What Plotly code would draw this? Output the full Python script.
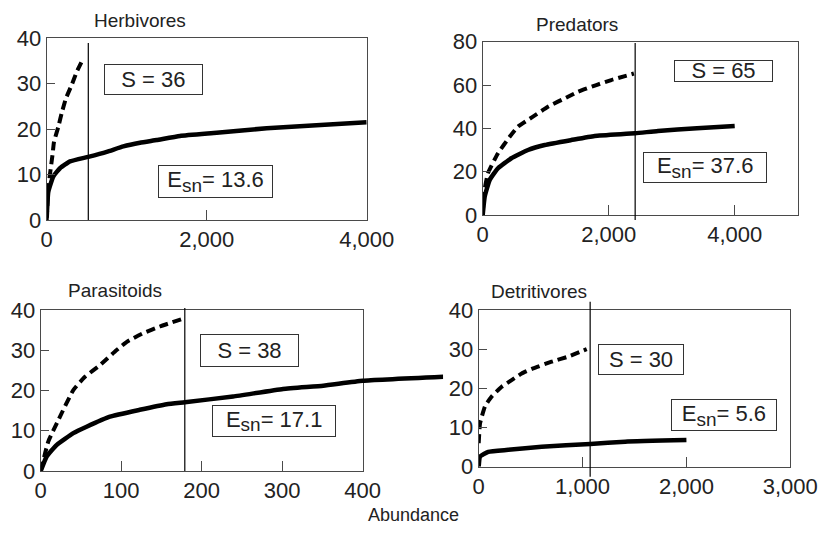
import plotly.graph_objects as go

W, H = 822, 545

# ---------------- data ----------------
herb_solid_x = [0, 20, 83, 166, 291, 520, 750, 958, 1166, 1375, 1666, 2125, 2750, 3580, 4000]
herb_solid_y = [0.5, 6.2, 9.6, 11.4, 12.9, 13.9, 15.0, 16.2, 17.0, 17.6, 18.5, 19.2, 20.2, 21.1, 21.5]
herb_dash_x = [0, 20, 75, 91, 145, 187, 241, 312, 375, 450]
herb_dash_y = [0, 7, 14.7, 17.2, 20.5, 23.5, 26.8, 29.7, 32.6, 35.3]

pred_solid_x = [0, 32, 111, 243, 455, 719, 984, 1406, 1777, 2420, 2781, 3400, 4000]
pred_solid_y = [0, 8.5, 16.2, 21.6, 26.2, 30, 32.3, 34.6, 36.5, 37.7, 38.8, 40.0, 41.1]
pred_dash_x = [0, 20, 84, 243, 428, 560, 798, 1036, 1354, 1513, 1803, 2041, 2400]
pred_dash_y = [0, 10, 19.3, 28.5, 36.1, 40.8, 45.4, 50, 54.6, 56.9, 60, 62.3, 65.3]

para_solid_x = [0, 7.4, 20, 40.5, 57, 86, 123, 156.5, 179, 239, 301, 351, 400, 500]
para_solid_y = [0, 3.6, 6.5, 9.4, 11, 13.5, 15.2, 16.6, 17.1, 18.5, 20.4, 21.2, 22.4, 23.4]
para_dash_x = [0, 9.4, 22, 40.5, 55, 73.7, 94, 107, 127, 148, 178]
para_dash_y = [0, 7.3, 12.7, 20.1, 23.4, 26.3, 30, 32.1, 34.2, 35.9, 37.9]

detr_solid_x = [0, 13, 92, 285, 606, 1075, 1410, 2000]
detr_solid_y = [0, 2.6, 3.8, 4.3, 5.1, 5.8, 6.4, 6.8]
detr_dash_x = [0, 13, 61, 125, 221, 317, 414, 525, 702, 862, 1040]
detr_dash_y = [6, 11.1, 15.4, 17.9, 20.4, 22.1, 23.8, 25.1, 26.8, 28.1, 30]

panel_titles = ["Herbivores", "Predators", "Parasitoids", "Detritivores"]
vline_x = [520, 2420, 179, 1073]
s_values = [36, 65, 38, 30]
esn_values = ["13.6", "37.6", "17.1", "5.6"]

x_ranges = [[0, 4000], [0, 5000], [0, 400], [0, 3000]]
x_ticks = [[0, 2000, 4000], [0, 2000, 4000], [0, 100, 200, 300, 400], [0, 1000, 2000, 3000]]
y_ranges = [[0, 40], [0, 80], [0, 40], [0, 40]]
y_ticks = [[0, 10, 20, 30, 40], [0, 20, 40, 60, 80], [0, 10, 20, 30, 40], [0, 10, 20, 30, 40]]

# ---------------- layout helpers ----------------
def px(x):
    return x / W

def py(y):
    return 1 - y / H

# panel frames in pixels: (left, right, top, bottom)
frames = [(46.7, 366.7, 38.3, 220), (482.7, 797.7, 41.7, 215),
          (40.7, 362.7, 310, 471), (478.7, 790.3, 310, 466.7)]

FONT = "Liberation Sans, Arial, sans-serif"
LINE = "#4a4a4a"
CLEAR = "rgba(0,0,0,0)"
TXT = "#222"

fig = go.Figure()

solids = [(herb_solid_x, herb_solid_y), (pred_solid_x, pred_solid_y),
          (para_solid_x, para_solid_y), (detr_solid_x, detr_solid_y)]
dashes = [(herb_dash_x, herb_dash_y), (pred_dash_x, pred_dash_y),
          (para_dash_x, para_dash_y), (detr_dash_x, detr_dash_y)]

for i in range(4):
    n = "" if i == 0 else str(i + 1)
    xa, ya = "x" + n, "y" + n
    if i == 2:
        # parasitoid solid curve runs past the frame: use a wider overlay axis
        xa, ya = "x5", "y5"
    dx, dy = dashes[i]
    fig.add_trace(go.Scatter(x=dx, y=dy, xaxis=xa, yaxis=ya, mode="lines",
                             line=dict(color="black", width=4, dash="9px,5px",
                                       shape="spline", smoothing=0.4),
                             showlegend=False, hoverinfo="skip"))
    sx, sy = solids[i]
    fig.add_trace(go.Scatter(x=sx, y=sy, xaxis=xa, yaxis=ya, mode="lines",
                             line=dict(color="black", width=4.5, shape="spline", smoothing=0.4),
                             showlegend=False, hoverinfo="skip"))

layout = dict(width=W, height=H, margin=dict(l=0, r=0, t=0, b=0, autoexpand=False),
              paper_bgcolor="white", plot_bgcolor=CLEAR, showlegend=False)

for i in range(4):
    n = "" if i == 0 else str(i + 1)
    l, r, t, b = frames[i]
    layout["xaxis" + n] = dict(domain=[px(l), px(r)], anchor="y" + n, range=x_ranges[i],
                               tickvals=x_ticks[i], tickformat=",d", ticks="inside", ticklen=10,
                               tickcolor=LINE, showline=True, linecolor=LINE, linewidth=1, mirror=True,
                               showgrid=False, zeroline=False, automargin=False,
                               tickfont=dict(family=FONT, size=22, color=TXT))
    layout["yaxis" + n] = dict(domain=[py(b), py(t)], anchor="x" + n, range=y_ranges[i],
                               tickvals=y_ticks[i], ticks="inside", ticklen=8, tickcolor=LINE,
                               showline=True, linecolor=LINE, linewidth=1, mirror=True,
                               showgrid=False, zeroline=False, automargin=False,
                               tickfont=dict(family=FONT, size=22, color=TXT))

# overlay axis for parasitoids (0..500 at the same scale as 0..400 in the frame)
l3, r3, t3, b3 = frames[2]
layout["xaxis5"] = dict(domain=[px(l3), px(l3 + (r3 - l3) * 500 / 400)], anchor="y5",
                        range=[0, 500], visible=False, automargin=False)
layout["yaxis5"] = dict(domain=[py(b3), py(t3)], anchor="x5", range=[0, 40],
                        visible=False, automargin=False)

fig.update_layout(**layout)

# vertical reference lines
vl_extent = [(0, 0.974), (-0.029, 0.9925), (0, 1.012), (-0.064, 1.053)]
for i in range(4):
    n = "" if i == 0 else str(i + 1)
    fig.add_shape(type="line", xref="x" + n, yref="y" + n + " domain",
                  x0=vline_x[i], x1=vline_x[i], y0=vl_extent[i][0], y1=vl_extent[i][1],
                  line=dict(color="black", width=1.2))

# panel titles
title_pos = [(140, 20), (577, 24), (115, 290), (539, 291)]
for i in range(4):
    fig.add_annotation(text=panel_titles[i], xref="paper", yref="paper",
                       x=px(title_pos[i][0]), y=py(title_pos[i][1]),
                       showarrow=False, xanchor="center", yanchor="middle",
                       font=dict(family=FONT, size=19, color=TXT))

fig.add_annotation(text="Abundance", xref="paper", yref="paper", x=px(413), y=py(515),
                   showarrow=False, xanchor="center", yanchor="middle",
                   font=dict(family=FONT, size=18, color=TXT))

# boxed labels (center x, center y, w, h) in pixels
s_boxes = [(153.3, 79.7, 98.7, 30.7), (723.8, 70.8, 99, 21.7),
           (249.5, 350, 99, 33.4), (640.7, 359.7, 86, 31.3)]
e_boxes = [(215.5, 181.5, 115, 33), (704.8, 167.2, 124.3, 31),
           (273.8, 420.8, 124.3, 31.7), (723.8, 414.5, 105.7, 32.4)]
for i in range(4):
    cx, cy, w, h = s_boxes[i]
    fig.add_annotation(text=f"S = {s_values[i]}", xref="paper", yref="paper",
                       x=px(cx), y=py(cy), xanchor="center", yanchor="middle", showarrow=False,
                       width=w - 2, height=h - 2, borderpad=0, bordercolor="#333", borderwidth=1,
                       bgcolor="white", font=dict(family=FONT, size=22, color=TXT))
    cx, cy, w, h = e_boxes[i]
    fig.add_annotation(text=f"E<sub><span style='font-size:19px'>sn</span></sub>= {esn_values[i]}",
                       xref="paper", yref="paper",
                       x=px(cx), y=py(cy), xanchor="center", yanchor="middle", showarrow=False,
                       width=w - 2, height=h - 2, borderpad=0, bordercolor="#333", borderwidth=1,
                       bgcolor="white", font=dict(family=FONT, size=22, color=TXT))

fig.write_html("out.html", config={"displayModeBar": False},
               post_script="document.body.style.margin='0';document.body.style.padding='0';")
